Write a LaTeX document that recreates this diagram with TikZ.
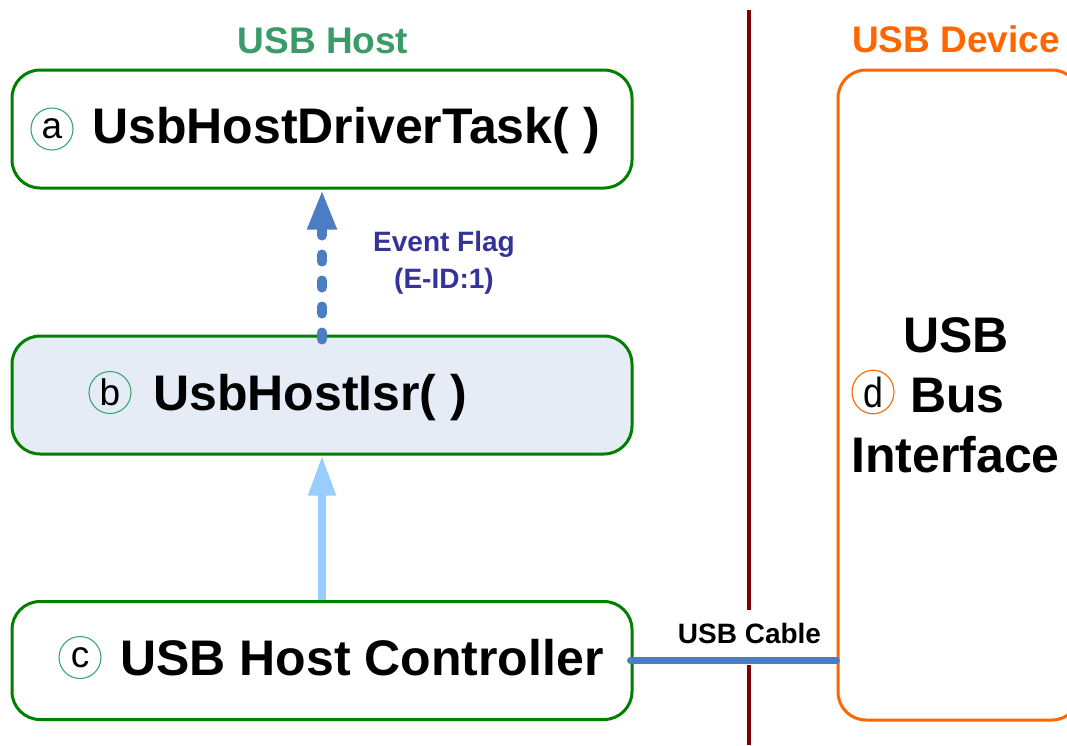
\documentclass[tikz,border=0pt]{standalone}
\usepackage{fontspec}
\setmainfont{Liberation Sans}
\usetikzlibrary{arrows.meta,shapes.geometric}
\definecolor{hostgreen}{RGB}{0,128,0}
\definecolor{hosttitle}{RGB}{56,155,104}
\definecolor{tagring}{RGB}{60,165,115}
\definecolor{devorange}{RGB}{255,102,0}
\definecolor{sepred}{RGB}{128,0,0}
\definecolor{evtblue}{RGB}{74,125,193}
\definecolor{irqblue}{RGB}{153,204,255}
\definecolor{lblblue}{RGB}{51,51,153}
\definecolor{isrfill}{RGB}{230,236,246}

\begin{document}
\begin{tikzpicture}[x=1pt,y=-1pt,
  hostbox/.style={draw=hostgreen,line width=3pt,rounded corners=28pt,
    minimum width=620pt,minimum height=118pt,inner sep=0pt},
  devbox/.style={draw=devorange,line width=3pt,rounded corners=28pt,
    minimum width=242pt,minimum height=650pt,inner sep=0pt},
  grouptitle/.style={font=\fontsize{37}{44}\selectfont\bfseries,anchor=base,inner sep=0pt},
  bigtext/.style={font=\fontsize{50}{60}\selectfont\bfseries,anchor=base west,inner sep=0pt},
  tag/.style={circle,draw=tagring,line width=1.1pt,minimum size=42pt,inner sep=0pt,
    font=\fontsize{37}{37}\selectfont},
  devtag/.style={ellipse,draw=devorange,line width=1.1pt,minimum width=42pt,minimum height=40pt,
    inner sep=0pt,font=\fontsize{42}{42}\selectfont},
  evtarrow/.style={draw=evtblue,line width=10pt,line cap=round,dash pattern=on 7pt off 19pt,
    -{Triangle[length=40pt,width=27pt]}},
  irqarrow/.style={draw=irqblue,line width=8pt,-{Triangle[length=40pt,width=26pt]}},
  cable/.style={draw=evtblue,line width=7pt,line cap=round},
  separator/.style={draw=sepred,line width=4pt}
]
\useasboundingbox (0,0) rectangle (1067,745);
\clip (0,0) rectangle (1067,745);

% group titles
\node[grouptitle,text=hosttitle] (hosttitle) at (323,53) {USB Host};
\node[grouptitle,text=devorange] (devtitle) at (956,52) {USB Device};

% host-side software and hardware blocks
\node[hostbox] (a) at (322,129) {};
\node[hostbox,fill=isrfill] (b) at (322,395) {};
\node[hostbox] (c) at (322,660.5) {};

\node[tag] (ta) at (52,129) {a};
\node[bigtext] (la) at (92,143) {UsbHostDriverTask( )};
\node[tag] (tb) at (110,392.5) {b};
\node[bigtext] (lb) at (153,410) {UsbHostIsr( )};
\node[tag] (tc) at (80,657.5) {c};
\node[bigtext] (lc) at (120,675) {USB Host Controller};

% device side
\node[devbox] (d) at (959,395) {};
\node[bigtext,anchor=base] (ld1) at (956,352) {USB};
\node[devtag] (td) at (873,392) {\scalebox{0.85}[1]{d}};
\node[bigtext] (ld2) at (910,412) {Bus};
\node[bigtext,anchor=base] (ld3) at (955.5,472) {Interface};

% signalling between the blocks
\draw[evtarrow] ([yshift=-5pt]b.north) -- (a.south);
\node[font=\fontsize{28}{37}\selectfont\bfseries,text=lblblue,align=center] (evt) at (444,263)
  {Event Flag\\(E-ID:1)};
\draw[irqarrow] (c.north) -- (b.south);

% host/device boundary, broken where the cable label sits
\draw[separator] (749,10) -- (749,610);
\draw[separator] (749,665) -- (749,745);
\node[inner sep=0pt,anchor=base,font=\fontsize{28}{34}\selectfont\bfseries]
  (cablelbl) at (749.5,643) {USB Cable};
\draw[cable] ([xshift=-3pt]c.east) -- (c.east -| d.west);
\end{tikzpicture}
\end{document}
